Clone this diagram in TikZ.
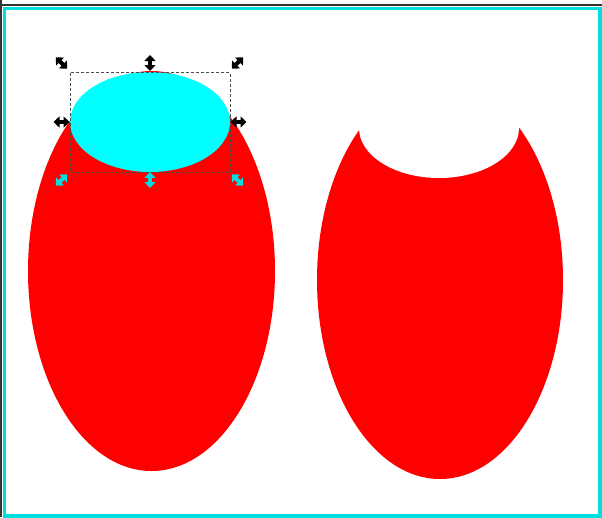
\documentclass[tikz,border=0pt]{standalone}
\usepackage{xcolor}
\usepackage{tikz}
\usetikzlibrary{arrows.meta,calc}
\definecolor{framecyan}{RGB}{0,222,222}
\definecolor{fillcyan}{RGB}{0,255,255}
\tikzset{
  handle/.style={line width=4.2pt,{Triangle[width=11pt,length=6pt]}-{Triangle[width=11pt,length=6pt]}},
}

\begin{document}
\begin{tikzpicture}[x=1pt,y=-1pt]
\useasboundingbox (0,0) rectangle (602,517);
\fill[white] (0,0) rectangle (602,517);
\draw[line width=2pt,black!80] (0,4.6)--(602,4.6);
\draw[line width=2.4pt,black!80] (1.2,0)--(1.2,517);
\draw[line width=3.5pt,framecyan] (4.6,8.6) rectangle (600.2,516);
% left: ellipse with cyan ellipse on top
\fill[red] (151.5,271) ellipse [x radius=123.5,y radius=200];
\fill[fillcyan] (150,122) ellipse [x radius=80,y radius=50];
% right: ellipse with the cut made
\fill[red] (440,280) ellipse [x radius=123,y radius=199];
\fill[white] (439,128) ellipse [x radius=80,y radius=50];
% selection
\draw[gray!60!black,line width=0.8pt,dash pattern=on 3pt off 2pt] (70,72.5) rectangle (230,172);
\foreach \px/\py/\ang/\col in {61.5/63/45/black,150/63/90/black,237.5/63/-45/black,
  61.5/122/0/black,238.5/122/0/black,
  61.5/180/-45/framecyan,150/180/90/framecyan,237.5/180/45/framecyan}
  \draw[handle,\col] ($(\px,\py)+(\ang:-8)$)--($(\px,\py)+(\ang:8)$);
\end{tikzpicture}
\end{document}
